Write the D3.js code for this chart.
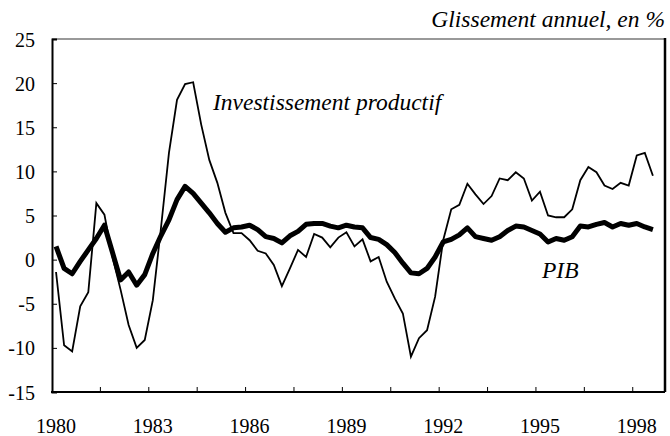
<!DOCTYPE html>
<html>
<head>
<meta charset="utf-8">
<script src="https://cdn.jsdelivr.net/npm/d3@7"></script>
<style>
  body { margin: 0; background: #fff; }
  svg text { font-family: "Liberation Serif", "Times New Roman", Times, serif; }
</style>
</head>
<body>
<div id="chart"></div>
<script>
// trimestres 1980T1 .. 1998T4 (le dernier est vide)
var years = d3.range(1980, 1999);
var quarters = [];
years.forEach(function(y) {
    for (var q = 1; q <= 4; q++) quarters.push(y + "T" + q);
});

var yearLabels = [1980, 1983, 1986, 1989, 1992, 1995, 1998];
var yTicks = [-15, -10, -5, 0, 5, 10, 15, 20, 25];

// PIB, glissement annuel
var pib = [
    1.5, -1.0, -1.6, -0.2, 1.1, 2.4, 3.9, 0.8, -2.3, -1.4, -2.9, -1.7,
    0.7, 2.7, 4.5, 6.8, 8.3, 7.5, 6.4, 5.3, 4.1, 3.1, 3.6, 3.7,
    3.9, 3.4, 2.6, 2.4, 1.9, 2.7, 3.2, 4.0, 4.1, 4.1, 3.8, 3.6,
    3.9, 3.7, 3.6, 2.5, 2.3, 1.7, 0.8, -0.4, -1.5, -1.6, -1.0, 0.3,
    2.0, 2.3, 2.8, 3.6, 2.6, 2.4, 2.2, 2.6, 3.3, 3.8, 3.7, 3.3,
    2.9, 2.0, 2.4, 2.2, 2.6, 3.8, 3.7, 4.0, 4.2, 3.7, 4.1, 3.9,
    4.1, 3.7, 3.4
];

// Investissement productif, glissement annuel
var invest = [
    -1.4, -9.7, -10.4, -5.3, -3.7, 6.4, 5.1, 0.3, -3.4, -7.4, -10.0, -9.1,
    -4.6, 3.5, 12.1, 18.1, 19.9, 20.1, 15.3, 11.3, 8.7, 5.3, 3.0, 3.0,
    2.2, 1.0, 0.7, -0.6, -3.0, -1.0, 1.1, 0.3, 2.9, 2.5, 1.4, 2.5,
    3.1, 1.5, 2.3, -0.2, 0.3, -2.5, -4.4, -6.1, -11.0, -8.9, -8.0, -4.2,
    2.2, 5.7, 6.2, 8.6, 7.4, 6.3, 7.2, 9.2, 9.0, 9.9, 9.2, 6.7,
    7.7, 5.0, 4.8, 4.8, 5.7, 9.0, 10.5, 9.9, 8.4, 8.0, 8.7, 8.4,
    11.8, 12.1, 9.5
];

var W = 670, H = 436;
var margin = {left: 52, right: 5, top: 39, bottom: 44};
var FONT = "'Liberation Serif', 'Times New Roman', serif";

var svg = d3.select("#chart").append("svg")
    .attr("width", W).attr("height", H)
    .style("display", "block");

var x = d3.scaleBand()
    .domain(quarters)
    .range([margin.left, W - margin.right])
    .paddingInner(0).paddingOuter(0);

var y = d3.scaleLinear()
    .domain([-15, 25])
    .range([H - margin.bottom, margin.top]);

function cx(i) { return x(quarters[i]) + x.bandwidth() / 2; }

// cadre : haut gris fin, droite noire epaisse
svg.append("line")
    .attr("x1", margin.left).attr("x2", W - margin.right)
    .attr("y1", margin.top).attr("y2", margin.top)
    .attr("stroke", "#777").attr("stroke-width", 1.5);
svg.append("line")
    .attr("x1", W - margin.right).attr("x2", W - margin.right)
    .attr("y1", margin.top - 1).attr("y2", H - margin.bottom)
    .attr("stroke", "#000").attr("stroke-width", 2.5);

// axe des y (graduations vers l'interieur)
var yAxis = d3.axisRight(y).tickValues(yTicks).tickSize(5).tickFormat("");
var gy = svg.append("g")
    .attr("transform", "translate(" + margin.left + ",0)")
    .call(yAxis);
gy.select(".domain").attr("stroke-width", 2);
gy.selectAll(".tick line").attr("stroke-width", 1);

svg.append("g").selectAll("text")
    .data(yTicks).enter().append("text")
    .attr("x", 35)
    .attr("y", function(d) { return y(d) + 3; })
    .attr("text-anchor", "end")
    .attr("dominant-baseline", "middle")
    .attr("font-family", FONT)
    .attr("font-size", 20)
    .text(function(d) { return d; });

// axe des x : graduations tous les 6 trimestres
var tickCats = quarters.filter(function(d, i) { return i % 6 === 0 && i > 0; });
var gx = svg.append("g")
    .attr("transform", "translate(0," + (H - margin.bottom) + ")");
gx.append("line")
    .attr("x1", margin.left - 1).attr("x2", W - margin.right)
    .attr("stroke", "#000").attr("stroke-width", 2);
gx.selectAll("line.tick")
    .data(tickCats).enter().append("line")
    .attr("class", "tick")
    .attr("x1", function(d) { return x(d); })
    .attr("x2", function(d) { return x(d); })
    .attr("y1", 0).attr("y2", -5)
    .attr("stroke", "#000").attr("stroke-width", 1);

svg.append("g").selectAll("text")
    .data(yearLabels).enter().append("text")
    .attr("x", function(d) { return x(d + "T1") + x.bandwidth() / 2; })
    .attr("y", 433)
    .attr("text-anchor", "middle")
    .attr("font-family", FONT)
    .attr("font-size", 20)
    .text(function(d) { return d; });

// courbes
var line = d3.line()
    .x(function(d, i) { return cx(i); })
    .y(function(d) { return y(d); });

svg.append("path")
    .datum(invest)
    .attr("d", line)
    .attr("fill", "none")
    .attr("stroke", "#000")
    .attr("stroke-width", 1.8)
    .attr("stroke-linejoin", "miter");

svg.append("path")
    .datum(pib)
    .attr("d", line)
    .attr("fill", "none")
    .attr("stroke", "#000")
    .attr("stroke-width", 5)
    .attr("stroke-linejoin", "round");

// libelles
function label(tx, ty, anchor, s) {
    svg.append("text")
        .attr("x", tx).attr("y", ty)
        .attr("text-anchor", anchor)
        .attr("font-family", FONT)
        .attr("font-size", 23.5).attr("font-style", "italic")
        .text(s);
}
label(W - 5, 27, "end", "Glissement annuel, en %");
label(213, 110, "start", "Investissement productif");
label(542, 278, "start", "PIB");
</script>
</body>
</html>
